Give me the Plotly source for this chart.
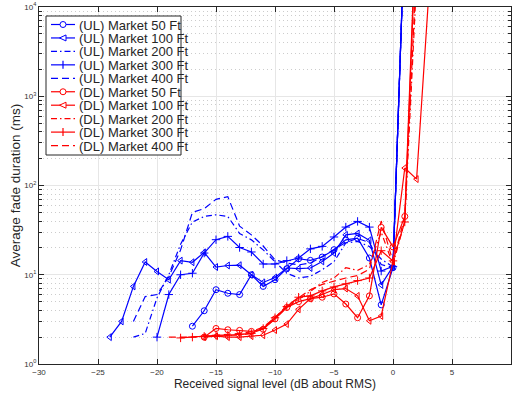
import plotly.graph_objects as go

# Received signal level (dB about RMS) and average fade duration (ms)
ul_50_x = list(range(-17, 2))
ul_50_y = [2.65, 3.95, 6.8, 6.2, 6.0, 10, 7.4, 8.8, 11.7, 15.1, 14.5, 15.8, 19.1, 24.6, 25.7, 15.4, 4.6, 12.0, 83000]

ul_100_x = list(range(-24, 2))
ul_100_y = [2.0, 3.0, 7.4, 13.9, 10.9, 8.8, 14.4, 13.8, 17.8, 12.2, 12.7, 12.8, 10.0, 8.2, 9.3, 11.9,
            11.7, 11.9, 14.1, 17.5, 28.0, 29.0, 24.3, 7.7, 12.4, 83000]

ul_200_x = list(range(-22, 2))
ul_200_y = [2.0, 2.2, 5.5, 10, 22, 39, 45, 47, 45, 29, 24.6, 19, 14, 10.4, 9.2, 9.6, 11.4, 14,
            22.7, 23.6, 20.7, 15, 12.2, 83000]

ul_300_x = list(range(-20, 2))
ul_300_y = [2.0, 6.0, 10, 10.4, 17.5, 24.7, 26.9, 20.2, 18, 13.2, 13.2, 14.4, 15.4, 19.5, 20.8,
            26.5, 34.2, 39.6, 34.2, 11, 12.4, 83000]

ul_400_x = list(range(-22, 2))
ul_400_y = [3.0, 5.7, 6.0, 9.5, 19, 50, 55, 70, 75, 35, 28, 21, 14.7, 13.5, 12.9, 13.5, 16, 19,
            23, 25.5, 23, 13, 12, 83000]

dl_50_x = list(range(-16, 3))
dl_50_y = [2.0, 2.5, 2.42, 2.38, 2.32, 2.45, 3.2, 4.3, 5.0, 5.4, 5.6, 6.1, 4.7, 3.3, 5.8, 34,
           20.5, 45, 140000]

dl_100_x = list(range(-16, 4))
dl_100_y = [2.0, 2.05, 2.0, 2.0, 2.05, 2.1, 2.4, 2.8, 4.1, 5.4, 6.0, 6.8, 7.0, 5.8, 3.05, 3.45,
            14, 157, 118, 12000]

dl_200_x = list(range(-16, 3))
dl_200_y = [2.0, 2.1, 2.1, 2.1, 2.2, 2.5, 3.2, 4.3, 5.3, 6.5, 8.2, 9.2, 12, 11.2, 13, 30, 13,
            40, 20000]

dl_300_x = list(range(-18, 3))
dl_300_y = [1.96, 2.0, 2.04, 2.1, 2.1, 2.15, 2.2, 2.5, 3.3, 4.4, 5.6, 5.8, 6.6, 7.3, 7.9, 8.6,
            9.2, 18.6, 14.3, 39, 100000]

dl_400_x = list(range(-19, 3))
dl_400_y = [2.0, 2.0, 2.0, 2.05, 2.1, 2.15, 2.2, 2.3, 2.6, 3.3, 4.5, 5.5, 6.8, 7.8, 8.5, 9.2,
            9.8, 11.5, 40, 14, 45, 30000]

y_tick_vals = [1, 10, 100, 1000, 10000]
y_tick_text = ['10<sup>0</sup>', '10<sup>1</sup>', '10<sup>2</sup>', '10<sup>3</sup>', '10<sup>4</sup>']
x_tick_vals = [-30, -25, -20, -15, -10, -5, 0, 5, 10]

DASH = '7px,4px'
DASHDOT = '6px,3px,1.5px,3px'

series = [
    ('(UL) Market 50 Ft', ul_50_x, ul_50_y, '#0000ff', 'solid', 'circle-open'),
    ('(UL) Market 100 Ft', ul_100_x, ul_100_y, '#0000ff', 'solid', 'triangle-left-open'),
    ('(UL) Market 200 Ft', ul_200_x, ul_200_y, '#0000ff', DASHDOT, None),
    ('(UL) Market 300 Ft', ul_300_x, ul_300_y, '#0000ff', 'solid', 'cross-thin'),
    ('(UL) Market 400 Ft', ul_400_x, ul_400_y, '#0000ff', DASH, None),
    ('(DL) Market 50 Ft', dl_50_x, dl_50_y, '#ff0000', 'solid', 'circle-open'),
    ('(DL) Market 100 Ft', dl_100_x, dl_100_y, '#ff0000', 'solid', 'triangle-left-open'),
    ('(DL) Market 200 Ft', dl_200_x, dl_200_y, '#ff0000', DASHDOT, None),
    ('(DL) Market 300 Ft', dl_300_x, dl_300_y, '#ff0000', 'solid', 'cross-thin'),
    ('(DL) Market 400 Ft', dl_400_x, dl_400_y, '#ff0000', DASH, None),
]

W, H = 514, 395
L, R, T, B = 39, 3, 7, 31
TEXT = '#262626'


def px_x(px):
    # pixel column -> paper x
    return (px - L) / (W - L - R)


def px_y(py):
    # pixel row -> paper y
    return (H - B - py) / (H - T - B)


fig = go.Figure()

for name, xs, ys, color, dash, symbol in series:
    if symbol:
        mode = 'lines+markers'
        marker = dict(symbol=symbol, size=6, color=color, line=dict(color=color, width=1))
    else:
        mode = 'lines'
        marker = None
    fig.add_trace(go.Scatter(
        x=xs, y=ys, name=name, mode=mode,
        line=dict(color=color, width=1.2, dash=dash),
        marker=marker,
        showlegend=False,
    ))

# legend drawn by hand so that the rows are as tight as in the reference
shapes = [dict(type='rect', xref='paper', yref='paper',
               x0=px_x(46), x1=px_x(181), y0=px_y(155), y1=px_y(16),
               fillcolor='white', line=dict(color=TEXT, width=1), layer='above')]
annotations = []
row0, row_gap = 24.5, 13.45
for i, (name, xs, ys, color, dash, symbol) in enumerate(series):
    cy = row0 + i * row_gap
    shapes.append(dict(type='line', xref='paper', yref='paper',
                       x0=px_x(51), x1=px_x(75), y0=px_y(cy), y1=px_y(cy),
                       line=dict(color=color, width=1.2, dash=dash), layer='above'))
    mx, r = 63, 3
    if symbol == 'circle-open':
        shapes.append(dict(type='circle', xref='paper', yref='paper',
                           x0=px_x(mx - r), x1=px_x(mx + r), y0=px_y(cy + r), y1=px_y(cy - r),
                           fillcolor='white', line=dict(color=color, width=1), layer='above'))
    elif symbol == 'triangle-left-open':
        path = 'M {} {} L {} {} L {} {} Z'.format(
            px_x(mx - r - 0.5), px_y(cy), px_x(mx + r), px_y(cy - r), px_x(mx + r), px_y(cy + r))
        shapes.append(dict(type='path', xref='paper', yref='paper', path=path,
                           fillcolor='white', line=dict(color=color, width=1), layer='above'))
    elif symbol == 'cross-thin':
        shapes.append(dict(type='line', xref='paper', yref='paper',
                           x0=px_x(mx), x1=px_x(mx), y0=px_y(cy - r - 1), y1=px_y(cy + r + 1),
                           line=dict(color=color, width=1.2), layer='above'))
    annotations.append(dict(xref='paper', yref='paper', x=px_x(77), y=px_y(cy + 0.5),
                            xanchor='left', yanchor='middle', showarrow=False,
                            text=name, font=dict(size=13, color=TEXT)))

axis_common = dict(
    showline=True,
    linecolor=TEXT,
    linewidth=1,
    mirror='ticks',
    ticks='inside',
    ticklen=5,
    tickcolor=TEXT,
    showgrid=True,
    gridcolor='#e6e6e6',
    gridwidth=1.3,
    zeroline=False,
    automargin=False,
    tickfont=dict(size=8, color='#333333'),
)

fig.update_layout(
    width=W,
    height=H,
    margin=dict(l=L, r=R, t=T, b=B),
    plot_bgcolor='white',
    paper_bgcolor='white',
    font=dict(family='Liberation Sans, Arial, sans-serif', color=TEXT),
    showlegend=False,
    shapes=shapes,
    annotations=annotations,
    xaxis=dict(
        range=[-30, 10],
        tickvals=x_tick_vals,
        title=dict(text='Received signal level (dB about RMS)', font=dict(size=12), standoff=2),
        **axis_common,
    ),
    yaxis=dict(
        type='log',
        range=[0, 4],
        tickvals=y_tick_vals,
        ticktext=y_tick_text,
        title=dict(text='Average fade duration (ms)', font=dict(size=13.5), standoff=0),
        minor=dict(
            dtick='D1',
            showgrid=True,
            gridcolor='#cccccc',
            griddash='1px,3px',
            ticks='inside',
            ticklen=3,
            tickcolor=TEXT,
        ),
        **axis_common,
    ),
)

# the page body has a default 8px margin; drop it so the figure sits at the window corner
fig.write_html("out.html", config={'displayModeBar': False},
               post_script="document.body.style.margin = '0';")
